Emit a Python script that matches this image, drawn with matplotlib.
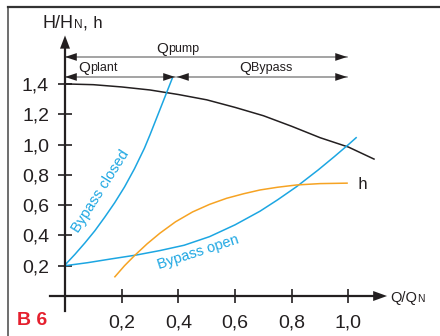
import matplotlib

matplotlib.use('Agg')
import matplotlib.pyplot as plt
from matplotlib.lines import Line2D
from matplotlib.ticker import FixedLocator, FuncFormatter

# curves (Q/QN, H/HN)
pump_q = [0, 0.1, 0.2, 0.3, 0.4, 0.5, 0.6, 0.7, 0.8, 0.9, 1.0, 1.09]
pump_h = [1.400, 1.395, 1.380, 1.360, 1.330, 1.295, 1.245, 1.190, 1.120, 1.045, 0.983, 0.904]

closed_q = [0, 0.035, 0.07, 0.105, 0.14, 0.175, 0.21, 0.245, 0.28, 0.30, 0.32, 0.34, 0.36, 0.38]
closed_h = [0.205, 0.275, 0.35, 0.43, 0.52, 0.615, 0.72, 0.84, 0.975, 1.065, 1.16, 1.255, 1.35, 1.445]

open_q = [0, 0.08, 0.16, 0.25, 0.335, 0.42, 0.51, 0.6, 0.688, 0.75, 0.817, 0.893, 0.95, 1.0, 1.027]
open_h = [0.20, 0.22, 0.244, 0.27, 0.30, 0.335, 0.392, 0.47, 0.56, 0.635, 0.722, 0.832, 0.92, 1.0, 1.045]

eff_q = [0.176, 0.21, 0.247, 0.29, 0.335, 0.39, 0.45, 0.51, 0.57, 0.63, 0.688, 0.75, 0.817, 0.9, 0.995]
eff_h = [0.127, 0.20, 0.27, 0.345, 0.415, 0.49, 0.555, 0.605, 0.645, 0.675, 0.70, 0.718, 0.733, 0.742, 0.745]

x_ticks = [0.2, 0.4, 0.6, 0.8, 1.0]
y_ticks = [0.2, 0.4, 0.6, 0.8, 1.0, 1.2, 1.4]

# flow split arrows: (y level, start, end)
q_pump_span = (1.578, 0.0, 0.995)
q_plant_span = (1.446, 0.0, 0.388)
q_bypass_span = (1.446, 0.395, 0.995)

BLUE = '#1ca6e2'
ORANGE = '#f6a323'
DARK = '#231f20'
GRAY = '#8a8a8a'

plt.rcParams['font.family'] = ['Liberation Sans', 'DejaVu Sans']

fig = plt.figure(figsize=(4.4, 3.36), dpi=100)
ax = fig.add_axes([0, 0, 1, 1])
ax.set_xlim(-0.2293, 1.3228)
ax.set_ylim(-0.264, 1.954)
ax.patch.set_alpha(0)

# figure frame (left and top only are visible in the reference)
fig.add_artist(Line2D([8 / 440, 8 / 440], [0, 1 - 7 / 336], transform=fig.transFigure,
                      color='#555', lw=1.2))
fig.add_artist(Line2D([8 / 440, 1], [1 - 7 / 336, 1 - 7 / 336], transform=fig.transFigure,
                      color='#333', lw=1.6))

for s in ['top', 'right']:
    ax.spines[s].set_visible(False)
for s in ['left', 'bottom']:
    ax.spines[s].set_position(('data', 0))
    ax.spines[s].set_linewidth(1.6)
    ax.spines[s].set_color(DARK)
ax.spines['left'].set_bounds(-0.10, 1.66)
ax.spines['bottom'].set_bounds(-0.053, 1.10)

fmt = FuncFormatter(lambda v, p: '{:.1f}'.format(v).replace('.', ','))
ax.xaxis.set_major_locator(FixedLocator(x_ticks))
ax.yaxis.set_major_locator(FixedLocator(y_ticks))
ax.xaxis.set_major_formatter(fmt)
ax.yaxis.set_major_formatter(fmt)
ax.xaxis.set_ticks_position('bottom')
ax.yaxis.set_ticks_position('left')
ax.tick_params(direction='inout', length=10, width=1.2, color=DARK,
               labelsize=14, labelcolor=DARK)
ax.tick_params(axis='x', pad=8)
ax.tick_params(axis='y', pad=6.5)

# axis arrowheads
ax.annotate('', xy=(0, 1.72), xytext=(0, 1.62),
            arrowprops=dict(arrowstyle='-|>,head_length=0.95,head_width=0.36',
                            color=DARK, lw=0, shrinkA=0, shrinkB=0))
ax.annotate('', xy=(1.136, 0), xytext=(1.06, 0),
            arrowprops=dict(arrowstyle='-|>,head_length=1.0,head_width=0.36',
                            color=DARK, lw=0, shrinkA=0, shrinkB=0))

# curves
ax.plot(pump_q, pump_h, color=DARK, lw=1.1)
ax.plot(closed_q, closed_h, color=BLUE, lw=1.1)
ax.plot(open_q, open_h, color=BLUE, lw=1.1)
ax.plot(eff_q, eff_h, color=ORANGE, lw=1.1)


def span_arrow(span):
    y, a, b = span
    ax.plot([a, b], [y, y], color=GRAY, lw=1.1)
    for tip, tail in [(a, a + 0.05), (b, b - 0.05)]:
        ax.annotate('', xy=(tip, y), xytext=(tail, y),
                    arrowprops=dict(arrowstyle='-|>,head_length=0.85,head_width=0.28',
                                    color=DARK, lw=0, shrinkA=0, shrinkB=0))


for sp in [q_pump_span, q_plant_span, q_bypass_span]:
    span_arrow(sp)


def sub_text(x, y, big, small, big_size=11, small_size=9, **kw):
    t = ax.text(x, y, big, fontsize=big_size, color=DARK, va='baseline', **kw)
    return ax.annotate(small, xy=(1, 0), xycoords=t, xytext=(0, 0.5),
                       textcoords='offset points', fontsize=small_size,
                       color=DARK, va='bottom', ha='left')


sub_text(0.321, 1.604, 'Q', 'pump')
sub_text(0.046, 1.479, 'Q', 'plant')
sub_text(0.614, 1.479, 'Q', 'Bypass')

# axis titles
yl = sub_text(-0.078, 1.769, 'H/H', 'N', big_size=13, small_size=8.5)
ax.annotate(', ', xy=(1, 0), xycoords=yl, xytext=(0, -1.0),
            textcoords='offset points', fontsize=13, color=DARK, va='bottom')
ax.text(0.098, 1.769, 'h', fontsize=12, family='Liberation Mono', color=DARK,
        va='baseline')
sub_text(1.149, -0.04, 'Q/Q', 'N', big_size=10.5, small_size=7.5)

ax.text(1.033, 0.706, 'h', fontsize=12, family='Liberation Mono', color=DARK,
        va='baseline')

# curve labels
ax.text(0.125, 0.69, 'Bypass closed', fontsize=10.5, color=BLUE, rotation=57.5,
        ha='center', va='center', rotation_mode='anchor')
ax.text(0.469, 0.29, 'Bypass open', fontsize=10.5, color=BLUE, rotation=18,
        ha='center', va='center', rotation_mode='anchor')

ax.text(-0.169, -0.191, 'B 6', fontsize=14, fontweight='bold', color='#e5202e',
        va='baseline')

plt.savefig('out.png', dpi=100)
